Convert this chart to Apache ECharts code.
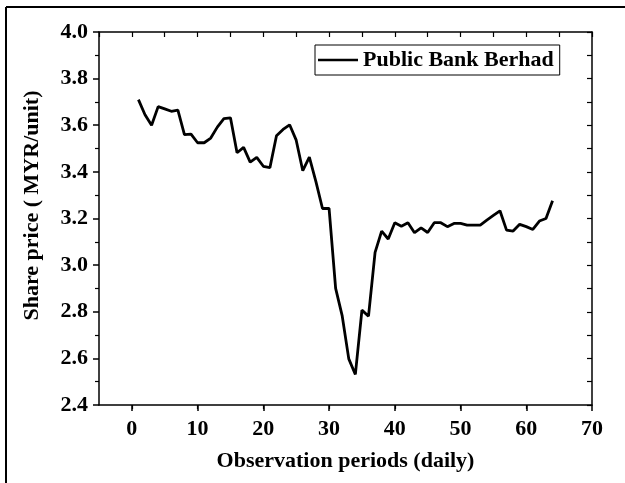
<!DOCTYPE html>
<html>
<head>
<meta charset="utf-8">
<script src="https://cdn.jsdelivr.net/npm/echarts@6/dist/echarts.min.js"></script>
<style>
	html, body { margin: 0; padding: 0; background: #fff; overflow: hidden; }
	#chart { width: 625px; height: 483px; }
</style>
</head>
<body>
<div id="chart"></div>
<script>
// observation day numbers
var days = [
	1, 2, 3, 4, 5, 6, 7, 8, 9, 10, 11, 12, 13, 14, 15, 16,
	17, 18, 19, 20, 21, 22, 23, 24, 25, 26, 27, 28, 29, 30, 31, 32,
	33, 34, 35, 36, 37, 38, 39, 40, 41, 42, 43, 44, 45, 46, 47, 48,
	49, 50, 51, 52, 53, 54, 55, 56, 57, 58, 59, 60, 61, 62, 63, 64
];
// share price (MYR/unit)
var prices = [
	3.71, 3.645, 3.60, 3.68, 3.67, 3.66, 3.665, 3.56, 3.562, 3.525, 3.525, 3.545, 3.592, 3.628, 3.632, 3.482,
	3.505, 3.442, 3.462, 3.424, 3.418, 3.555, 3.582, 3.602, 3.536, 3.405, 3.463, 3.358, 3.243, 3.243, 2.90, 2.782,
	2.598, 2.531, 2.807, 2.781, 3.055, 3.146, 3.112, 3.182, 3.167, 3.182, 3.139, 3.160, 3.140, 3.182, 3.182, 3.165,
	3.179, 3.179, 3.172, 3.172, 3.172, 3.193, 3.213, 3.233, 3.150, 3.146, 3.175, 3.165, 3.153, 3.189, 3.200, 3.276
];
var xTickLabels = [0, 10, 20, 30, 40, 50, 60, 70];
var seriesName = "Public Bank Berhad";
var xTitle = "Observation periods (daily)";
var yTitle = "Share price ( MYR/unit)";

var chart = echarts.init(document.getElementById("chart"));
var fnt = "Liberation Serif";
var pts = [];
for(var i = 0; i < days.length; i++) {
	pts.push([days[i], prices[i]]);
}
var axLine = { show: true, onZero: false, lineStyle: { color: "#000", width: 1.5 } };

var option = {
	animation: false,
	backgroundColor: "#fff",
	grid: { left: 99, top: 32, width: 493, height: 373 },
	legend: {
		left: 315,
		top: 45,
		padding: [4, 6, 4, 3],
		borderColor: "#000",
		borderWidth: 1,
		itemWidth: 40,
		itemHeight: 2.5,
		textStyle: { fontFamily: fnt, fontWeight: "bold", fontSize: 22, color: "#000" },
		data: [{ name: seriesName, icon: "rect" }]
	},
	xAxis: [{
		type: "value",
		min: -5,
		max: 70,
		interval: 10,
		axisLine: axLine,
		splitLine: { show: false },
		axisTick: { show: true, inside: false, length: 6, lineStyle: { color: "#000", width: 1.5 },
			customValues: xTickLabels },
		minorTick: { show: true, splitNumber: 2, length: 4, lineStyle: { color: "#000", width: 1.2 } },
		axisLabel: { fontFamily: fnt, fontWeight: "bold", fontSize: 22, color: "#000", margin: 13,
			customValues: xTickLabels },
		name: xTitle,
		nameLocation: "middle",
		nameGap: 45,
		nameTextStyle: { fontFamily: fnt, fontWeight: "bold", fontSize: 22, color: "#000" }
	}, {
		type: "value",
		position: "top",
		min: -5,
		max: 70,
		interval: 5,
		axisLine: axLine,
		splitLine: { show: false },
		axisTick: { show: true, inside: true, length: 5, lineStyle: { color: "#000", width: 1.2 } },
		axisLabel: { show: false }
	}],
	yAxis: [{
		type: "value",
		min: 2.4,
		max: 4.0,
		interval: 0.2,
		axisLine: axLine,
		splitLine: { show: false },
		axisTick: { show: true, inside: false, length: 6, lineStyle: { color: "#000", width: 1.5 } },
		minorTick: { show: true, splitNumber: 2, length: 4, lineStyle: { color: "#000", width: 1.2 } },
		axisLabel: { fontFamily: fnt, fontWeight: "bold", fontSize: 22, color: "#000", margin: 11,
			formatter: function(v) { return v.toFixed(1); } },
		name: yTitle,
		nameLocation: "middle",
		nameGap: 56,
		nameTextStyle: { fontFamily: fnt, fontWeight: "bold", fontSize: 22, color: "#000", padding: [0, 0, 0, 26] }
	}, {
		type: "value",
		position: "right",
		min: 2.4,
		max: 4.0,
		interval: 0.1,
		axisLine: axLine,
		splitLine: { show: false },
		axisTick: { show: true, inside: true, length: 5, lineStyle: { color: "#000", width: 1.2 } },
		axisLabel: { show: false }
	}],
	graphic: [{
		type: "line",
		shape: { x1: 6, y1: 7, x2: 625, y2: 7 },
		style: { stroke: "#000", lineWidth: 2 },
		silent: true
	}, {
		type: "line",
		shape: { x1: 6, y1: 7, x2: 6, y2: 483 },
		style: { stroke: "#000", lineWidth: 2 },
		silent: true
	}],
	series: [{
		name: seriesName,
		type: "line",
		xAxisIndex: 0,
		yAxisIndex: 0,
		data: pts,
		symbol: "none",
		lineStyle: { color: "#000", width: 2.8 },
		itemStyle: { color: "#000" }
	}]
};
chart.setOption(option);
</script>
</body>
</html>
